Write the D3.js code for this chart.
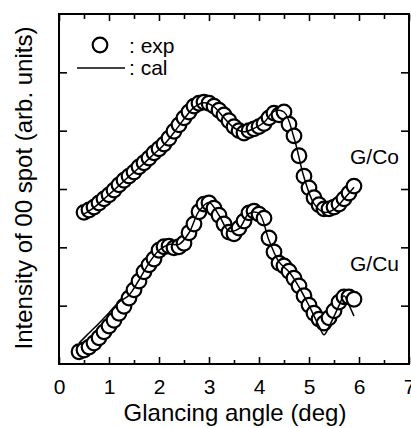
<!DOCTYPE html>
<html>
  <head>
    <meta charset="utf-8">
    <script type="text/javascript" src="https://cdn.jsdelivr.net/npm/d3@7"></script>
    <style type="text/css">
      body { margin: 0; background: #fff; }
      text { font-family: "Liberation Sans", Arial, sans-serif; fill: #000; }
    </style>
  </head>
  <body>
    <script type="text/javascript">
      // measured angles (deg), step 0.1
      var coExpX = [0.5,0.6,0.7,0.8,0.9,1.0,1.1,1.2,1.3,1.4,1.5,1.6,1.7,1.8,1.9,2.0,2.1,2.2,2.3,2.4,2.5,2.6,2.7,2.8,2.9,3.0,3.1,3.2,3.3,3.4,3.5,3.6,3.7,3.8,3.9,4.0,4.1,4.2,4.3,4.4,4.5,4.6,4.7,4.8,4.9,5.0,5.1,5.2,5.3,5.4,5.5,5.6,5.7,5.8,5.9];
      var coExpY = [2.60,2.64,2.69,2.76,2.83,2.90,2.98,3.07,3.15,3.22,3.29,3.38,3.45,3.53,3.62,3.69,3.77,3.87,3.99,4.10,4.22,4.32,4.42,4.47,4.49,4.47,4.42,4.35,4.27,4.17,4.07,4.00,3.96,4.00,4.03,4.07,4.12,4.22,4.30,4.27,4.32,4.11,3.91,3.57,3.22,3.02,2.85,2.73,2.66,2.66,2.69,2.74,2.83,2.93,3.05];

      var cuExpX = [0.4,0.5,0.6,0.7,0.8,0.9,1.0,1.1,1.2,1.3,1.4,1.5,1.6,1.7,1.8,1.9,2.0,2.1,2.2,2.3,2.4,2.5,2.6,2.7,2.8,2.9,3.0,3.1,3.2,3.3,3.4,3.5,3.6,3.7,3.8,3.9,4.0,4.1,4.2,4.3,4.4,4.5,4.6,4.7,4.8,4.9,5.0,5.1,5.2,5.3,5.4,5.5,5.6,5.7,5.8,5.9];
      var cuExpY = [0.21,0.24,0.29,0.36,0.45,0.55,0.65,0.75,0.87,0.99,1.13,1.27,1.42,1.58,1.70,1.80,1.95,2.01,2.02,1.99,2.01,2.07,2.25,2.40,2.61,2.74,2.76,2.67,2.55,2.40,2.26,2.23,2.33,2.45,2.59,2.62,2.57,2.50,2.16,1.92,1.73,1.68,1.59,1.47,1.34,1.17,1.01,0.87,0.77,0.70,0.79,0.91,1.06,1.15,1.15,1.11];

      // calculated curves
      var coCalX = [0.5,0.7,0.9,1.1,1.3,1.5,1.7,1.9,2.1,2.3,2.5,2.7,2.9,3.1,3.3,3.5,3.7,3.9,4.1,4.3,4.5,4.7,4.9,5.1,5.3,5.5,5.7,5.9];
      var coCalY = [2.57,2.68,2.83,2.98,3.14,3.29,3.44,3.60,3.76,3.97,4.20,4.40,4.48,4.41,4.22,4.05,3.98,4.04,4.14,4.33,4.32,3.88,3.20,2.75,2.60,2.65,2.83,3.03];

      var cuCalX = [0.4,0.6,0.8,1.0,1.2,1.4,1.6,1.8,2.0,2.2,2.4,2.6,2.8,3.0,3.2,3.4,3.6,3.8,4.0,4.2,4.4,4.6,4.8,5.0,5.2,5.3,5.4,5.6,5.7,5.8,5.9];
      var cuCalY = [0.36,0.53,0.70,0.88,1.06,1.18,1.44,1.73,1.95,2.05,2.05,2.25,2.62,2.77,2.55,2.28,2.32,2.58,2.58,2.12,1.75,1.58,1.32,1.00,0.65,0.50,0.64,1.00,1.17,1.01,0.82];

      var xTicks = [0,1,2,3,4,5,6,7];
      var xMinor = [0.5,1.5,2.5,3.5,4.5,5.5,6.5];
      var yTicks = [1,2,3,4,5];
      var labels = ["G/Co","G/Cu"];

      var width = 411, height = 428;
      var mLeft = 59, mRight = 409, mTop = 14, mBottom = 364;

      var svg = d3.select("body").append("svg")
        .attr("width", width)
        .attr("height", height);

      var xScale = d3.scaleLinear().domain([0, 7]).range([mLeft, mRight]);
      var yScale = d3.scaleLinear().domain([0, 6]).range([mBottom, mTop]);

      function zip(xs, ys) {
        return xs.map(function(x, i) { return [x, ys[i]]; });
      }

      // frame
      svg.append("rect")
        .attr("x", mLeft).attr("y", mTop)
        .attr("width", mRight - mLeft).attr("height", mBottom - mTop)
        .attr("fill", "none").attr("stroke", "#000").attr("stroke-width", 2);

      // bottom axis with labels, ticks inward
      var bottomAxis = svg.append("g")
        .attr("transform", "translate(0," + mBottom + ")")
        .call(d3.axisBottom(xScale).tickValues(xTicks).tickSize(-7).tickPadding(15).tickFormat(d3.format("d")));
      bottomAxis.select(".domain").remove();
      bottomAxis.selectAll("text").attr("font-size", 21).attr("font-family", "Liberation Sans, Arial, sans-serif");
      svg.append("g")
        .attr("transform", "translate(0," + mBottom + ")")
        .call(d3.axisBottom(xScale).tickValues(xMinor).tickSize(-4).tickFormat(""))
        .select(".domain").remove();

      // top axis ticks
      svg.append("g")
        .attr("transform", "translate(0," + mTop + ")")
        .call(d3.axisTop(xScale).tickValues(xTicks).tickSize(-7).tickFormat(""))
        .select(".domain").remove();
      svg.append("g")
        .attr("transform", "translate(0," + mTop + ")")
        .call(d3.axisTop(xScale).tickValues(xMinor).tickSize(-5).tickFormat(""))
        .select(".domain").remove();

      // left and right ticks, no labels
      svg.append("g")
        .attr("transform", "translate(" + mLeft + ",0)")
        .call(d3.axisLeft(yScale).tickValues(yTicks).tickSize(-8).tickFormat(""))
        .select(".domain").remove();
      svg.append("g")
        .attr("transform", "translate(" + mRight + ",0)")
        .call(d3.axisRight(yScale).tickValues(yTicks).tickSize(-8).tickFormat(""))
        .select(".domain").remove();

      svg.selectAll(".tick line").attr("stroke", "#000").attr("stroke-width", 1.6);

      var line = d3.line()
        .x(function(d) { return xScale(d[0]); })
        .y(function(d) { return yScale(d[1]); })
        .curve(d3.curveCatmullRom);

      var series = [
        { exp: zip(coExpX, coExpY), cal: zip(coCalX, coCalY) },
        { exp: zip(cuExpX, cuExpY), cal: zip(cuCalX, cuCalY) }
      ];

      series.forEach(function(s) {
        svg.append("g").selectAll("circle")
          .data(s.exp)
          .enter()
          .append("circle")
          .attr("cx", function(d) { return xScale(d[0]); })
          .attr("cy", function(d) { return yScale(d[1]); })
          .attr("r", 7.3)
          .attr("fill", "#fff")
          .attr("stroke", "#000")
          .attr("stroke-width", 2.2);

        svg.append("path")
          .datum(s.cal)
          .attr("d", line)
          .attr("fill", "none")
          .attr("stroke", "#000")
          .attr("stroke-width", 1.5);
      });

      // series labels
      svg.append("text").attr("x", 350).attr("y", 164).attr("font-size", 21).text(labels[0]);
      svg.append("text").attr("x", 350).attr("y", 271).attr("font-size", 21).text(labels[1]);

      // legend
      svg.append("circle")
        .attr("cx", 100).attr("cy", 45).attr("r", 7.3)
        .attr("fill", "#fff").attr("stroke", "#000").attr("stroke-width", 2.2);
      svg.append("text").attr("x", 129).attr("y", 53).attr("font-size", 21).text(": exp");
      svg.append("line")
        .attr("x1", 77).attr("x2", 125).attr("y1", 68).attr("y2", 68)
        .attr("stroke", "#000").attr("stroke-width", 1.5);
      svg.append("text").attr("x", 129).attr("y", 75).attr("font-size", 21).text(": cal");

      // axis titles
      svg.append("text")
        .attr("x", (mLeft + mRight) / 2 + 1)
        .attr("y", 421)
        .attr("text-anchor", "middle")
        .attr("font-size", 24)
        .text("Glancing angle (deg)");

      svg.append("text")
        .attr("text-anchor", "middle")
        .attr("transform", "translate(32,188)rotate(-90)")
        .attr("font-size", 24)
        .text("Intensity of 00 spot (arb. units)");
    </script>
  </body>
</html>
